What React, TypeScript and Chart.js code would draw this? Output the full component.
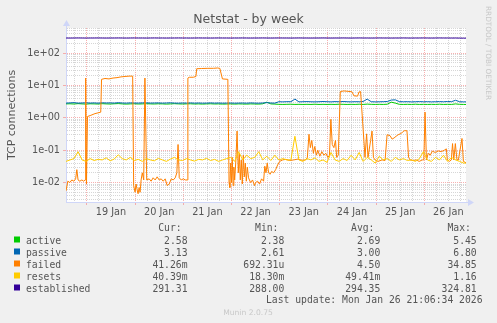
import React, { useEffect, useRef } from "react";
import { Chart, registerables } from "chart.js";

Chart.register(...registerables);

// x values are hours relative to 19 Jan 00:00
const X_MIN = -10.4;
const X_MAX = 188.8;
const Y_MIN = 0.0025;
const Y_MAX = 600;

const dayLabels = ["19 Jan", "20 Jan", "21 Jan", "22 Jan", "23 Jan", "24 Jan", "25 Jan", "26 Jan"];
const yTickLabels = ["1e-02", "1e-01", "1e+00", "1e+01", "1e+02"];
const yTickDecades = [0.01, 0.1, 1, 10, 100];

// regular 2-hour sampling grid for the smooth series
const gridStart = -10.4;
const gridStep = 2;

const activeValues = [
  2.7, 2.72, 2.68, 2.75, 2.7, 2.66, 2.72, 2.7, 2.68, 2.74,
  2.7, 2.68, 2.72, 2.76, 2.7, 2.66, 2.7, 2.72, 2.68, 2.7,
  2.74, 2.7, 2.68, 2.72, 2.7, 2.66, 2.7, 2.74, 2.7, 2.68,
  2.7, 2.72, 2.68, 2.7, 2.66, 2.7, 2.72, 2.68, 2.7, 2.66,
  2.68, 2.7, 2.66, 2.7, 2.68, 2.66, 2.7, 2.68, 2.66, 2.72,
  3.05, 2.7, 2.66, 2.62, 2.6, 2.62, 2.64, 2.6, 2.62, 2.6,
  2.62, 2.6, 2.64, 2.6, 2.62, 2.6, 2.62, 2.6, 2.64, 2.62,
  2.6, 2.62, 2.6, 2.64, 2.6, 2.66, 2.62, 2.6, 2.62, 2.6,
  2.64, 3.05, 2.85, 2.62, 2.6, 2.62, 2.6, 2.64, 2.6, 2.62,
  2.6, 2.62, 2.6, 2.64, 2.6, 2.62, 2.6, 2.7, 2.62, 2.6, 2.58,
];

const passiveValues = [
  2.85, 2.9, 2.95, 2.85, 2.88, 2.92, 2.86, 2.9, 2.84, 2.92,
  2.88, 2.9, 2.86, 2.94, 2.88, 2.85, 2.9, 2.88, 2.86, 2.9,
  2.92, 2.86, 2.88, 2.9, 2.85, 2.88, 2.92, 2.86, 2.84, 2.88,
  2.86, 2.9, 2.85, 2.88, 2.84, 2.86, 2.9, 2.85, 2.88, 2.84,
  2.86, 2.88, 2.84, 2.86, 2.88, 2.84, 2.9, 2.86, 2.84, 2.88,
  2.95, 2.88, 2.85, 3.15, 3.12, 3.16, 3.15, 3.8, 3.12, 3.15,
  3.18, 3.14, 3.12, 3.15, 3.2, 3.15, 3.12, 3.18, 3.14, 3.2,
  3.15, 3.12, 3.16, 3.14, 3.2, 3.8, 3.15, 3.12, 3.14, 3.16,
  3.2, 3.55, 3.6, 3.18, 3.14, 3.16, 3.12, 3.15, 3.18, 3.14,
  3.16, 3.12, 3.15, 3.18, 3.14, 3.2, 3.16, 3.5, 3.15, 3.12, 3.13,
];

const resetsValues = [
  0.045, 0.05, 0.055, 0.09, 0.05, 0.045, 0.055, 0.048, 0.052, 0.05,
  0.058, 0.047, 0.053, 0.072, 0.055, 0.05, 0.06, 0.048, 0.052, 0.045,
  0.055, 0.05, 0.047, 0.056, 0.05, 0.045, 0.053, 0.06, 0.05, 0.048,
  0.055, 0.05, 0.046, 0.052, 0.05, 0.056, 0.048, 0.052, 0.045, 0.05,
  0.055, 0.06, 0.045, 0.09, 0.05, 0.07, 0.055, 0.06, 0.09, 0.05,
  0.065, 0.048, 0.07, 0.05, 0.055, 0.05, 0.05, 0.27, 0.05, 0.045,
  0.055, 0.05, 0.058, 0.045, 0.05, 0.042, 0.085, 0.05, 0.045, 0.055,
  0.048, 0.07, 0.05, 0.085, 0.045, 0.06, 0.05, 0.04, 0.065, 0.05,
  0.055, 0.045, 0.06, 0.05, 0.055, 0.048, 0.05, 0.045, 0.055, 0.09,
  0.05, 0.045, 0.06, 0.05, 0.07, 0.045, 0.06, 0.05, 0.045, 0.04, 0.04,
];

const establishedValues = [
  294, 293, 294, 295, 294, 293, 294, 294, 295, 294,
  293, 294, 294, 295, 294, 293, 294, 295, 294, 294,
  293, 294, 295, 294, 294, 293, 294, 294, 295, 294,
  294, 293, 294, 295, 294, 294, 293, 294, 295, 294,
  294, 293, 294, 294, 295, 294, 293, 294, 294, 295,
  294, 293, 294, 295, 294, 294, 293, 294, 295, 294,
  294, 293, 294, 294, 295, 294, 293, 294, 294, 295,
  294, 293, 294, 295, 294, 294, 293, 294, 295, 294,
  294, 293, 294, 294, 295, 294, 293, 294, 294, 295,
  294, 293, 294, 295, 294, 294, 293, 294, 292, 291, 291,
];

// failed: irregular sampling, spiky
const failedTimes = [
  -10.4, -9.5, -8.5, -7.5, -6.5, -5.6, -5.0, -4.4, -3.5, -2.5,
  -1.6, -0.9, -0.6, -0.2, 0.3, 2, 4, 6, 6.9, 7.3,
  9, 11, 13, 15, 17, 19, 21, 22.8, 23.3, 24,
  24.5, 25, 25.5, 26, 26.5, 27, 27.6, 28.3, 28.9, 29.8,
  31, 32, 33, 34, 35, 36, 37, 38, 39, 40,
  41, 42, 43, 44, 44.8, 45.4, 46, 47, 48, 49,
  49.9, 50.3, 51, 53, 54.3, 54.7, 57, 60, 63, 65,
  66.2, 67.5, 70.2, 70.8, 71.2, 71.6, 72, 72.4, 72.8, 73.2,
  73.6, 74.2, 74.8, 75.4, 75.9, 76.4, 76.9, 77.4, 77.9, 78.4,
  78.9, 79.4, 79.9, 80.5, 81.5, 82.5, 83.5, 84, 85, 86,
  87, 88, 88.6, 89.2, 89.8, 90.5, 91.2, 92, 93, 94,
  95, 96, 97.5, 99, 101, 103, 105, 107, 109, 109.8,
  110.6, 111.3, 112, 112.8, 113.5, 114.3, 115, 116, 117, 118,
  119, 120, 120.8, 121.5, 122.2, 123, 123.8, 124.4, 125.2, 126.2,
  128, 130, 132, 133, 134.8, 135.5, 136.3, 137.3, 138.5, 139.3,
  140, 141.3, 142, 142.7, 143.5, 145, 147, 148.5, 149.5, 151,
  152, 153, 154, 155, 156, 157, 158, 159.4, 160.2, 161,
  162.5, 164, 165.5, 167, 167.8, 168.4, 169.1, 170, 171, 172,
  173.5, 175, 176.5, 178, 179, 179.5, 180.5, 181.5, 182.1, 182.7,
  183.5, 184.3, 185, 186.8, 187.5, 188.8,
];
const failedValues = [
  0.0055, 0.011, 0.010, 0.012, 0.011, 0.013, 0.025, 0.012, 0.011, 0.012,
  0.011, 0.012, 17, 0.009, 1.1, 1.2, 1.35, 1.45, 1.5, 15.5,
  16.5, 16, 17, 17.5, 18.5, 19, 19.5, 19.5, 0.008, 0.005,
  0.009, 0.006, 0.0045, 0.007, 0.005, 0.012, 0.02, 0.012, 17, 0.012,
  0.013, 0.011, 0.014, 0.012, 0.015, 0.012, 0.013, 0.011, 0.013, 0.008,
  0.009, 0.013, 0.012, 0.014, 0.02, 0.15, 0.014, 0.012, 0.013, 0.012,
  0.012, 17, 18, 18, 19, 33, 33.5, 34, 34, 34.8,
  34, 16, 15.5, 0.01, 0.007, 0.04, 0.01, 0.06, 0.008, 0.03,
  0.012, 0.05, 0.39, 0.02, 0.08, 0.012, 0.05, 0.009, 0.07, 0.015,
  0.04, 0.011, 0.03, 0.014, 0.01, 0.012, 0.008, 0.01, 0.011, 0.009,
  0.013, 0.011, 0.032, 0.02, 0.04, 0.02, 0.018, 0.022, 0.02, 0.025,
  0.035, 0.045, 0.05, 0.052, 0.048, 0.05, 0.053, 0.049, 0.05, 0.06,
  0.31, 0.12, 0.2, 0.08, 0.13, 0.07, 0.1, 0.065, 0.09, 0.07,
  0.08, 0.06, 0.07, 0.9, 0.15, 0.12, 0.2, 0.06, 0.07, 6.5,
  6.8, 6.6, 6.4, 4.8, 4.7, 6.3, 6.5, 0.8, 0.06, 0.32,
  0.06, 0.2, 0.39, 0.06, 0.05, 0.045, 0.05, 0.048, 0.3, 0.28,
  0.22, 0.24, 0.27, 0.3, 0.32, 0.35, 0.4, 0.4, 0.06, 0.05,
  0.048, 0.05, 0.045, 0.05, 0.05, 1.5, 0.05, 0.08, 0.07, 0.093,
  0.085, 0.095, 0.09, 0.1, 0.11, 0.05, 0.045, 0.05, 0.16, 0.05,
  0.16, 0.05, 0.05, 0.23, 0.045, 0.041,
];

const seriesNames = ["active", "passive", "failed", "resets", "established"];
const seriesColors = ["#00CC00", "#0066B3", "#FF8000", "#FFCC00", "#330099"];
const legendCur = ["2.58", "3.13", "41.26m", "40.39m", "291.31"];
const legendMin = ["2.38", "2.61", "692.31u", "18.30m", "288.00"];
const legendAvg = ["2.69", "3.00", "4.50", "49.41m", "294.35"];
const legendMax = ["5.45", "6.80", "34.85", "1.16", "324.81"];
const legendHeaders = ["Cur:", "Min:", "Avg:", "Max:"];
const titleText = "Netstat - by week";
const yTitleText = "TCP connections";
const lastUpdateText = "Last update: Mon Jan 26 21:06:34 2026";
const watermarkText = "Munin 2.0.75";
const sideText = "RRDTOOL / TOBI OETIKER";

const FONT_COLOR = "#555555";
const AXIS_COLOR = "#CFD6F8";
const MINOR_GRID = "rgba(200,200,200,0.75)";
const MAJOR_GRID = "rgba(245,150,150,0.75)";

function gridPoints(values: number[]) {
  return values.map((v, i) => ({ x: gridStart + i * gridStep, y: v }));
}

function isDecade(v: number) {
  const l = Math.log10(v);
  return Math.abs(l - Math.round(l)) < 1e-6;
}

function yTicks() {
  const out: number[] = [];
  for (let e = -3; e <= 2; e++) {
    for (let m = 1; m <= 9; m++) {
      const v = m * Math.pow(10, e);
      if (v >= Y_MIN * 0.999 && v <= Y_MAX * 1.001) out.push(v);
    }
  }
  return out;
}

function xTicks() {
  const out: number[] = [];
  for (let h = -6; h <= 186; h += 6) out.push(h);
  return out;
}

const decorPlugin = {
  id: "decor",
  beforeDraw(chart: any) {
    const { ctx, chartArea: a, width, height } = chart;
    ctx.save();
    ctx.fillStyle = "#F0F0F0";
    ctx.fillRect(0, 0, width, height);
    ctx.fillStyle = "#FFFFFF";
    ctx.fillRect(a.left, a.top, a.right - a.left, a.bottom - a.top);
    ctx.restore();
  },
  afterDraw(chart: any) {
    const { ctx, chartArea: a } = chart;
    ctx.save();
    // axis arrows
    ctx.fillStyle = AXIS_COLOR;
    ctx.strokeStyle = AXIS_COLOR;
    ctx.lineWidth = 1;
    ctx.beginPath();
    ctx.moveTo(a.left + 0.5, a.top);
    ctx.lineTo(a.left + 0.5, a.top - 4);
    ctx.moveTo(a.right, a.bottom + 0.5);
    ctx.lineTo(a.right + 3, a.bottom + 0.5);
    ctx.stroke();
    ctx.beginPath();
    ctx.moveTo(a.left - 3, a.top - 2);
    ctx.lineTo(a.left + 4, a.top - 2);
    ctx.lineTo(a.left + 0.5, a.top - 8);
    ctx.closePath();
    ctx.fill();
    ctx.beginPath();
    ctx.moveTo(a.right + 2, a.bottom - 3);
    ctx.lineTo(a.right + 2, a.bottom + 4);
    ctx.lineTo(a.right + 8, a.bottom + 0.5);
    ctx.closePath();
    ctx.fill();

    // title
    ctx.fillStyle = FONT_COLOR;
    ctx.font = "12.5px 'DejaVu Sans'";
    ctx.textAlign = "center";
    ctx.textBaseline = "alphabetic";
    ctx.fillText(titleText, 248.5, 23);

    // y title
    ctx.save();
    ctx.translate(15, (a.top + a.bottom) / 2);
    ctx.rotate(-Math.PI / 2);
    ctx.font = "11px 'DejaVu Sans'";
    ctx.textAlign = "center";
    ctx.fillText(yTitleText, 0, 0);
    ctx.restore();

    // side text
    ctx.save();
    ctx.translate(486, 53);
    ctx.rotate(Math.PI / 2);
    ctx.font = "7.3px 'DejaVu Sans'";
    ctx.fillStyle = "#C8C8C8";
    ctx.textAlign = "center";
    ctx.fillText(sideText, 0, 0);
    ctx.restore();

    // legend
    const colEnds = [187.5, 284.3, 380.3, 476.7];
    ctx.font = "9.72px 'DejaVu Sans Mono'";
    ctx.fillStyle = FONT_COLOR;
    ctx.textAlign = "right";
    legendHeaders.forEach((h, i) => ctx.fillText(h, colEnds[i] - 5.85, 231));
    const cols = [legendCur, legendMin, legendAvg, legendMax];
    seriesNames.forEach((name, r) => {
      const yb = 243.5 + r * 12;
      ctx.fillStyle = seriesColors[r];
      ctx.fillRect(14, yb - 7, 6, 6);
      ctx.fillStyle = FONT_COLOR;
      ctx.textAlign = "left";
      ctx.fillText(name, 26, yb);
      ctx.textAlign = "right";
      cols.forEach((c, i) => ctx.fillText(c[r], colEnds[i], yb));
    });
    ctx.textAlign = "right";
    ctx.fillText(lastUpdateText, 482.5, 303);

    ctx.font = "7.6px 'DejaVu Sans'";
    ctx.fillStyle = "#C8C8C8";
    ctx.textAlign = "center";
    ctx.fillText(watermarkText, 248, 315);
    ctx.restore();
  },
};

export default function App() {
  const ref = useRef<HTMLCanvasElement | null>(null);
  useEffect(() => {
    const canvas = ref.current;
    if (!canvas) return;
    const mk = (label: string, data: any[], color: string, order: number) => ({
      label,
      data,
      borderColor: color,
      backgroundColor: color,
      borderWidth: 1,
      pointRadius: 0,
      tension: 0,
      fill: false,
      order,
    });
    const failedData = failedTimes.map((t, i) => ({ x: t, y: failedValues[i] }));
    const chart = new Chart(canvas, {
      type: "line",
      data: {
        datasets: [
          mk(seriesNames[4], gridPoints(establishedValues), seriesColors[4], 1),
          mk(seriesNames[3], gridPoints(resetsValues), seriesColors[3], 2),
          mk(seriesNames[2], failedData, seriesColors[2], 3),
          mk(seriesNames[1], gridPoints(passiveValues), seriesColors[1], 4),
          mk(seriesNames[0], gridPoints(activeValues), seriesColors[0], 5),
        ],
      },
      options: {
        animation: false,
        responsive: false,
        devicePixelRatio: 1,
        events: [],
        layout: { padding: { left: 0, right: 31, top: 28, bottom: 0 } },
        plugins: {
          legend: { display: false },
          title: { display: false },
          tooltip: { enabled: false },
        },
        scales: {
          x: {
            type: "linear",
            min: X_MIN,
            max: X_MAX,
            afterBuildTicks: (s: any) => {
              s.ticks = xTicks().map((v) => ({ value: v }));
            },
            afterFit: (s: any) => {
              s.height = 121;
            },
            grid: {
              color: (c: any) => (Math.round(c.tick?.value ?? 1) % 24 === 0 ? MAJOR_GRID : MINOR_GRID),
              lineWidth: 1,
              drawTicks: true,
              tickLength: 3,
              tickColor: (c: any) => (Math.round(c.tick?.value ?? 1) % 24 === 0 ? MAJOR_GRID : "rgba(0,0,0,0)"),
            },
            border: { display: true, color: AXIS_COLOR, width: 1, dash: [1, 1] },
            ticks: {
              autoSkip: false,
              maxRotation: 0,
              padding: 2,
              color: FONT_COLOR,
              font: { family: "DejaVu Sans", size: 9.72 },
              callback: (v: any) => {
                const h = Math.round(Number(v));
                if (((h % 24) + 24) % 24 !== 12) return "";
                const d = Math.floor(h / 24);
                return dayLabels[d] ?? "";
              },
            },
          },
          y: {
            type: "logarithmic",
            min: Y_MIN,
            max: Y_MAX,
            afterBuildTicks: (s: any) => {
              s.ticks = yTicks().map((v) => ({ value: v }));
            },
            afterFit: (s: any) => {
              s.width = 66;
            },
            grid: {
              color: (c: any) => (c.tick && isDecade(c.tick.value) ? MAJOR_GRID : MINOR_GRID),
              lineWidth: 1,
              drawTicks: true,
              tickLength: 3,
              tickColor: (c: any) => (c.tick && isDecade(c.tick.value) ? MAJOR_GRID : "rgba(0,0,0,0)"),
            },
            border: { display: true, color: AXIS_COLOR, width: 1, dash: [1, 1] },
            ticks: {
              autoSkip: false,
              padding: 3,
              color: FONT_COLOR,
              font: { family: "DejaVu Sans", size: 9.72 },
              callback: (v: any) => {
                const val = Number(v);
                if (!isDecade(val)) return "";
                const idx = yTickDecades.findIndex((d) => Math.abs(Math.log10(d) - Math.log10(val)) < 1e-6);
                return idx >= 0 ? yTickLabels[idx] : "";
              },
            },
          },
        },
      } as any,
      plugins: [decorPlugin as any],
    });
    return () => chart.destroy();
  }, []);
  return (
    <div style={{ position: "absolute", left: 0, top: 0, width: 497, height: 323, background: "#F0F0F0" }}>
      <canvas ref={ref} width={497} height={323} style={{ display: "block", width: 497, height: 323 }} />
    </div>
  );
}
